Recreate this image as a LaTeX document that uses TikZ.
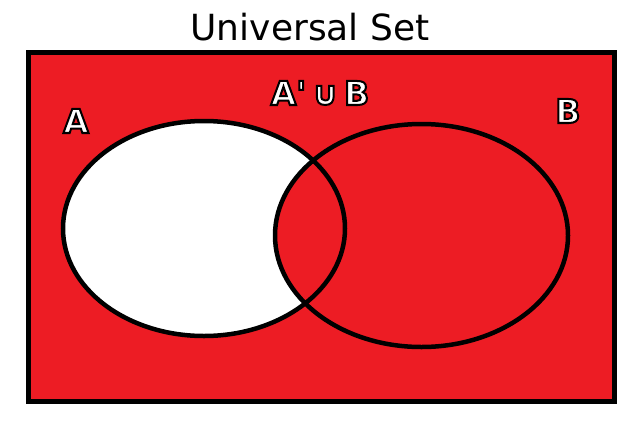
\documentclass[tikz,border=0pt]{standalone}
\usepackage{fontspec}
\newfontfamily\paintfont{DejaVu Sans}
\newfontfamily\paintbold{DejaVu Sans Bold}
\definecolor{paintred}{HTML}{ED1C24}
\tikzset{
  setlabel/.style={anchor=base, inner sep=0pt, font=\paintbold\fontsize{33}{36}\selectfont},
  setline/.style={draw=black, line width=4.5pt}
}
% white letters with a thin black rim
\newcommand{\outlined}[1]{\textcolor{white}{\special{pdf:literal direct 2 Tr 2 w 0 G}#1\special{pdf:literal direct 0 Tr 0 G}}}

\begin{document}
\begin{tikzpicture}[x=1pt, y=-1pt] %pixel units, y pointing down
\useasboundingbox (0,0) rectangle (636,423);
%universe
\fill[paintred] (28,52) rectangle (614,401);
%sets, A is left out of the shading
\fill[white] (204,228.5) ellipse [x radius=141, y radius=107.5];
\fill[paintred] (421.5,235.5) ellipse [x radius=146.5, y radius=111.5];
\draw[setline] (204,228.5) ellipse [x radius=141, y radius=107.5];
\draw[setline] (421.5,235.5) ellipse [x radius=146.5, y radius=111.5];
\draw[line width=5pt] (28,52) rectangle (614,401);
%texts
\node[anchor=base, inner sep=0pt, font=\paintfont\fontsize{36}{40}\selectfont] (title) at (310,40) {Universal Set};
\node[setlabel] (labA) at (76,133) {\outlined{A}};
\node[setlabel] (labB) at (568,123) {\outlined{B}};
\node[setlabel] (labAB) at (320,105) {\outlined{A'\,∪\,B}};
\end{tikzpicture}
\end{document}
